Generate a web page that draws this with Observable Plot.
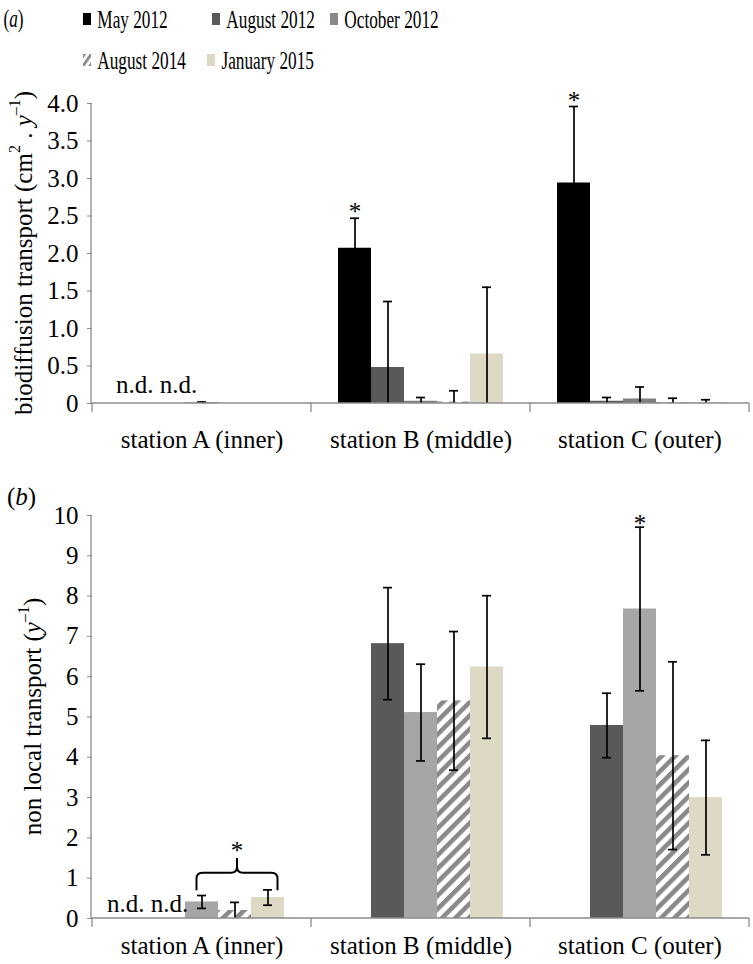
<!DOCTYPE html>
<html>
<head>
<meta charset="utf-8">
<script src="https://cdn.jsdelivr.net/npm/d3@7"></script>
<script src="https://cdn.jsdelivr.net/npm/@observablehq/plot@0.6"></script>
<style>
  body { margin: 0; background: #fff; }
  #root { position: relative; width: 753px; height: 964px; font-family: "Liberation Serif", "Times New Roman", serif; color: #000; overflow: hidden; }
  .abs { position: absolute; }
  #legend { position: absolute; left: 0; top: 0; width: 753px; height: 80px; transform: scaleX(0.69); transform-origin: 0 0; }
  .leg { position: absolute; font-size: 25px; line-height: 1; white-space: nowrap; display: flex; align-items: center; }
  .sw { width: 12px; height: 12px; margin-right: 9px; display: inline-block; }
  .panelLabel { position: absolute; font-size: 25px; line-height: 1; }
</style>
</head>
<body>
<div id="root"></div>
<script>
// ---------- data ----------
const stations = ["station A (inner)", "station B (middle)", "station C (outer)"];
const seriesNames = ["May 2012", "August 2012", "October 2012", "August 2014", "January 2015"];

// Panel (a) biodiffusion transport (cm2 . y-1); order: station A, B, C
const bioMay2012 = [null, 2.07, 2.94];
const bioMay2012Err = [null, 0.40, 1.02];
const bioAug2012 = [null, 0.48, 0.03];
const bioAug2012Err = [null, 0.88, 0.05];
const bioOct2012 = [0.01, 0.03, 0.06];
const bioOct2012Err = [0.01, 0.05, 0.16];
const bioAug2014 = [0, 0.02, 0.01];
const bioAug2014Err = [null, 0.15, 0.06];
const bioJan2015 = [0, 0.66, 0.01];
const bioJan2015Err = [null, 0.89, 0.04];

// Panel (b) non local transport (y-1); order: station A, B, C
const nlMay2012 = [null, null, null];
const nlMay2012Err = [null, null, null];
const nlAug2012 = [null, 6.82, 4.79];
const nlAug2012Err = [null, 1.39, 0.80];
const nlOct2012 = [0.41, 5.11, 7.68];
const nlOct2012Err = [0.16, 1.20, 2.03];
const nlAug2014 = [0.20, 5.40, 4.04];
const nlAug2014Err = [0.20, 1.72, 2.33];
const nlJan2015 = [0.52, 6.24, 3.00];
const nlJan2015Err = [0.19, 1.77, 1.42];

const bioTicks = [0, 0.5, 1.0, 1.5, 2.0, 2.5, 3.0, 3.5, 4.0];
const nlTicks = [0, 1, 2, 3, 4, 5, 6, 7, 8, 9, 10];
const bioStars = [["station B (middle)", "May 2012"], ["station C (outer)", "May 2012"]];
const nlStars = [["station C (outer)", "October 2012"]];
const nlBraceFrom = "October 2012", nlBraceTo = "January 2015";
const ndText = "n.d. n.d.";

// ---------- styles ----------
const colorsA = ["#000000", "#595959", "#7f7f7f", "url(#hatch)", "#ddd9c4"];
const colorsB = ["#000000", "#595959", "#a6a6a6", "url(#hatch)", "#ddd9c4"];
const legendColors = ["#000000", "#595959", "#898989", "url(#hatchL)", "#ddd9c4"];
const FONT = "'Liberation Serif', 'Times New Roman', serif";
const AXIS = "#8c8c8c";

function rowsOf(vals, errs) {
  const rows = [];
  seriesNames.forEach((s, k) => stations.forEach((st, j) => {
    const v = vals[k][j];
    if (v == null) return;
    const e = errs[k][j];
    rows.push({station: st, series: s, value: v, err: e,
      lo: e == null ? null : Math.max(0, v - e), hi: e == null ? null : v + e});
  }));
  return rows;
}

const root = document.getElementById("root");

// hidden defs for hatch patterns
root.insertAdjacentHTML("beforeend", `
<svg width="0" height="0" style="position:absolute">
  <defs>
    <pattern id="hatch" patternUnits="userSpaceOnUse" width="9.5" height="9.5" patternTransform="rotate(45)">
      <rect width="9.5" height="9.5" fill="#fff"/>
      <rect width="4.6" height="9.5" fill="#8a8a8a"/>
    </pattern>
    <pattern id="hatchL" patternUnits="userSpaceOnUse" width="7" height="7" patternTransform="rotate(45)">
      <rect width="7" height="7" fill="#fff"/>
      <rect width="3.5" height="7" fill="#8a8a8a"/>
    </pattern>
  </defs>
</svg>`);

// ---------- legend (horizontally condensed like the original) ----------
const legend = document.createElement("div");
legend.id = "legend";
root.appendChild(legend);
const legendPos = [[120, 19], [307, 19], [478, 19], [120, 60], [300, 60]];
seriesNames.forEach((s, i) => {
  const d = document.createElement("div");
  d.className = "leg";
  d.style.left = legendPos[i][0] + "px";
  d.style.top = (legendPos[i][1] - 13) + "px";
  d.style.height = "26px";
  d.innerHTML = `<svg class="sw" width="12" height="12"><rect width="12" height="12" fill="${legendColors[i]}"/></svg><span>${s}</span>`;
  legend.appendChild(d);
});
const la = document.createElement("div");
la.className = "panelLabel"; la.style.left = "5px"; la.style.top = "6px";
la.innerHTML = "(<i>a</i>)"; legend.appendChild(la);
const lb = document.createElement("div");
lb.className = "panelLabel"; lb.style.left = "7px"; lb.style.top = "484px";
lb.innerHTML = "(<i>b</i>)"; root.appendChild(lb);

// ---------- panel factory ----------
function panel({height, marginTop, marginBottom, vals, errs, colors, yMax, ticks, fmt, tickPad, stars, starDy, ndY, ndDx, labelHTML, labelX}) {
  const rows = rowsOf(vals, errs);
  const errRows = rows.filter(d => d.err != null);
  const lowCaps = errRows.filter(d => d.value - d.err > 0);
  const starRows = stars.map(([st, s]) => errRows.find(d => d.station === st && d.series === s));
  const ndRows = [{station: stations[0], series: seriesNames[0]}];
  const marginLeft = 91;

  const plot = Plot.plot({
    width: 753, height, marginLeft, marginRight: 3, marginTop, marginBottom,
    style: {fontFamily: FONT, fontSize: "25px", color: "#000", background: "transparent", overflow: "visible"},
    fx: {domain: stations, padding: 0, axis: "bottom", label: null, tickSize: 0, tickPadding: tickPad},
    x: {domain: seriesNames, paddingInner: 0, paddingOuter: 0.76, axis: null},
    y: {domain: [0, yMax], ticks, tickFormat: fmt, tickSize: 5, tickPadding: 9, label: null},
    color: {type: "ordinal", domain: seriesNames, range: colors},
    marks: [
      Plot.barY(rows, {fx: "station", x: "series", y: "value", fill: "series"}),
      Plot.ruleX(errRows, {fx: "station", x: "series", y1: "lo", y2: "hi", stroke: "#000", strokeWidth: 1.7}),
      Plot.tickY(errRows, {fx: "station", x: "series", y: "hi", stroke: "#000", strokeWidth: 1.7, insetLeft: 12, insetRight: 12}),
      Plot.tickY(lowCaps, {fx: "station", x: "series", y: "lo", stroke: "#000", strokeWidth: 1.7, insetLeft: 12, insetRight: 12}),
      Plot.text(starRows, {fx: "station", x: "series", y: "hi", text: () => "*", dy: starDy, fontSize: 25, fill: "#000"}),
      Plot.text(ndRows, {fx: "station", x: "series", y: () => ndY, text: () => ndText, textAnchor: "start", dx: ndDx, fontSize: 25, fill: "#000"})
    ]
  });

  const svg = plot;
  const fx = plot.scale("fx"), x = plot.scale("x"), y = plot.scale("y");
  const y0 = y.apply(0), yTop = y.apply(yMax);
  const xs = stations.map(s => fx.apply(s));
  const xEnd = xs[xs.length - 1] + fx.bandwidth;
  const g = d3.select(svg).append("g");
  g.append("line").attr("x1", marginLeft).attr("x2", xEnd).attr("y1", y0).attr("y2", y0).attr("stroke", AXIS).attr("stroke-width", 1.3);
  g.append("line").attr("x1", marginLeft).attr("x2", marginLeft).attr("y1", y0).attr("y2", yTop).attr("stroke", AXIS).attr("stroke-width", 1.3);
  [...xs, xEnd].forEach(px => g.append("line").attr("x1", px).attr("x2", px).attr("y1", y0).attr("y2", y0 + 9).attr("stroke", AXIS).attr("stroke-width", 1.3));
  d3.select(svg).selectAll('[aria-label="y-axis tick"] path, [aria-label="y-axis tick"] line').attr("stroke", AXIS);
  d3.select(svg).selectAll('[aria-label="y-axis tick"]').attr("stroke", AXIS);
  const midY = (y0 + yTop) / 2;
  g.append("text").attr("transform", `translate(${labelX},${midY}) rotate(-90)`)
    .attr("text-anchor", "middle").attr("dominant-baseline", "central")
    .attr("font-family", FONT).attr("font-size", 25).attr("fill", "#000").html(labelHTML);
  return {svg, fx, x, y, marginLeft, g};
}

function place(el, top) {
  const wrap = document.createElement("div");
  wrap.className = "abs"; wrap.style.left = "0px"; wrap.style.top = top + "px";
  wrap.appendChild(el); root.appendChild(wrap);
}

const pa = panel({
  height: 385, marginTop: 23, marginBottom: 62,
  vals: [bioMay2012, bioAug2012, bioOct2012, bioAug2014, bioJan2015],
  errs: [bioMay2012Err, bioAug2012Err, bioOct2012Err, bioAug2014Err, bioJan2015Err],
  colors: colorsA, yMax: 4, ticks: bioTicks, fmt: d => d === 0 ? "0" : d.toFixed(1), tickPad: 27,
  stars: bioStars, starDy: -6, ndY: 0.25, ndDx: -20,
  labelHTML: 'biodiffusion transport (cm<tspan dy="-9" font-size="16">2</tspan><tspan dy="9"> . </tspan><tspan font-style="italic">y</tspan><tspan dy="-9" font-size="16">–1</tspan><tspan dy="9">)</tspan>',
  labelX: 23
});
place(pa.svg, 80);

const pb = panel({
  height: 499, marginTop: 50, marginBottom: 46,
  vals: [nlMay2012, nlAug2012, nlOct2012, nlAug2014, nlJan2015],
  errs: [nlMay2012Err, nlAug2012Err, nlOct2012Err, nlAug2014Err, nlJan2015Err],
  colors: colorsB, yMax: 10, ticks: nlTicks, fmt: d => String(d), tickPad: 18,
  stars: nlStars, starDy: -3, ndY: 0.37, ndDx: -29,
  labelHTML: 'non local transport (<tspan font-style="italic">y</tspan><tspan dy="-9" font-size="16">–1</tspan><tspan dy="9">)</tspan>',
  labelX: 32
});
place(pb.svg, 465);

// brace over station A (panel b), drawn with the panel's scales
{
  const {fx, x, y, marginLeft, g} = pb;
  const base = fx.apply(stations[0]) - marginLeft + x.bandwidth / 2;
  const xl = base + x.apply(nlBraceFrom) - 5;
  const xr = base + x.apply(nlBraceTo) + 10;
  const xm = (xl + xr) / 2;
  const yLeg = y.apply(0.69), yBar = y.apply(1.12), yTip = y.apply(1.49);
  const r = 6;
  const p = `M${xl},${yLeg} L${xl},${yBar + r} Q${xl},${yBar} ${xl + r},${yBar} L${xm - r},${yBar} Q${xm},${yBar} ${xm},${yBar - r} L${xm},${yTip}
             M${xm},${yBar - r} Q${xm},${yBar} ${xm + r},${yBar} L${xr - r},${yBar} Q${xr},${yBar} ${xr},${yBar + r} L${xr},${yLeg}`;
  g.append("path").attr("d", p).attr("fill", "none").attr("stroke", "#000").attr("stroke-width", 2);
  g.append("text").attr("x", xm).attr("y", y.apply(1.81)).attr("dy", "0.55em").attr("text-anchor", "middle")
    .attr("font-family", FONT).attr("font-size", 25).attr("fill", "#000").text("*");
}
</script>
</body>
</html>
